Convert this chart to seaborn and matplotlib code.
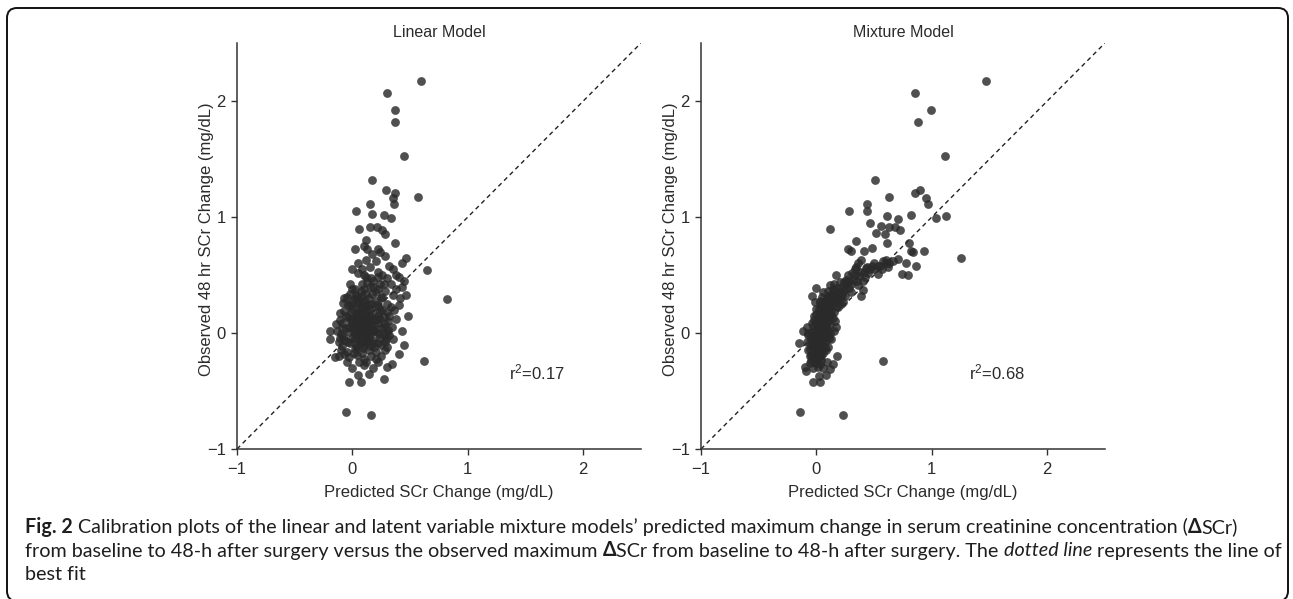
import numpy as np
import pandas as pd
import matplotlib
matplotlib.use("Agg")
import matplotlib.pyplot as plt
import seaborn as sns
from matplotlib.patches import FancyBboxPatch
from matplotlib.transforms import IdentityTransform

# ---------------- data (predicted, observed) ----------------
linear_tail = [
    (0.59, 2.17), (0.30, 2.07), (0.37, 1.92), (0.37, 1.82), (0.45, 1.53), (0.17, 1.32), (0.29, 1.23), (0.37, 1.21), (0.57, 1.17), (0.35, 1.16),
    (0.15, 1.11), (0.36, 1.11), (0.03, 1.05), (0.27, 1.02), (0.33, 0.99), (0.17, 1.03), (0.06, 0.90), (0.15, 0.91), (0.21, 0.91), (0.26, 0.89),
    (0.28, 0.85), (0.12, 0.80), (0.37, 0.78), (0.02, 0.72), (0.13, 0.72), (0.22, 0.72), (0.24, 0.70), (0.46, 0.65), (0.65, 0.54), (0.43, 0.60),
    (0.12, 0.63), (0.82, 0.29), (0.62, -0.24), (-0.06, -0.68), (0.16, -0.71), (-0.03, -0.42), (0.07, -0.42), (0.27, -0.40), (0.05, -0.36), (0.14, -0.35),
    (0.30, -0.29), (0.34, -0.27), (-0.19, 0.02), (-0.19, -0.05), (-0.15, -0.21), (-0.11, 0.17), (-0.08, 0.26), (0.46, 0.33), (0.43, 0.40), (0.45, 0.45),
]
linear_mid = [
    (0.10, 0.75), (0.17, 0.68), (0.20, 0.62), (0.28, 0.66), (0.32, 0.58), (0.35, 0.55), (0.38, 0.50), (0.05, 0.60), (0.00, 0.55), (0.08, 0.55),
    (0.15, 0.57), (0.22, 0.53), (0.26, 0.50), (0.30, 0.47), (0.40, 0.48), (0.33, 0.42), (0.38, 0.38), (0.12, 0.48), (0.18, 0.45), (0.05, 0.52),
    (-0.02, 0.42), (0.00, 0.38), (0.24, 0.42), (0.28, 0.36), (0.35, 0.33), (0.41, 0.30), (0.40, 0.24), (0.36, 0.20), (0.32, 0.15), (0.38, 0.12),
    (0.34, 0.05), (0.30, 0.00), (0.35, -0.05), (0.30, -0.12), (0.25, -0.20), (0.28, -0.15), (0.22, -0.25), (0.18, -0.30), (0.10, -0.28), (0.00, -0.30),
    (-0.05, -0.25), (-0.10, -0.15), (-0.12, -0.08), (-0.14, 0.08), (-0.07, 0.30), (-0.12, -0.20), (0.43, 0.02), (0.48, 0.15), (0.45, -0.10), (0.40, -0.18),
]
linear_core = [
    (-0.05, 0.31), (0.02, 0.29), (0.08, 0.32), (0.14, 0.30), (0.20, 0.28), (0.26, 0.31),
    (-0.02, 0.24), (0.05, 0.26), (0.11, 0.23), (0.17, 0.25), (0.23, 0.22), (0.30, 0.25),
    (-0.07, 0.19), (0.00, 0.21), (0.06, 0.18), (0.12, 0.20), (0.18, 0.17), (0.24, 0.19), (0.30, 0.18),
    (-0.04, 0.14), (0.03, 0.16), (0.09, 0.13), (0.15, 0.15), (0.21, 0.12), (0.27, 0.14),
    (-0.09, 0.09), (-0.02, 0.11), (0.04, 0.08), (0.10, 0.10), (0.16, 0.07), (0.22, 0.09), (0.28, 0.08),
    (-0.06, 0.04), (0.01, 0.06), (0.07, 0.03), (0.13, 0.05), (0.19, 0.02), (0.25, 0.04), (0.31, 0.03),
    (-0.10, -0.01), (-0.03, 0.01), (0.03, -0.02), (0.09, 0.00), (0.15, -0.01), (0.21, 0.01), (0.27, -0.02),
    (-0.07, -0.06), (0.00, -0.04), (0.06, -0.07), (0.12, -0.05), (0.18, -0.06), (0.24, -0.04),
    (-0.09, -0.11), (-0.02, -0.09), (0.04, -0.12), (0.10, -0.10), (0.16, -0.11), (0.22, -0.09), (0.28, -0.08),
    (-0.05, -0.16), (0.02, -0.14), (0.08, -0.17), (0.14, -0.15), (0.20, -0.16),
    (-0.03, -0.21), (0.04, -0.19), (0.10, -0.22), (0.16, -0.20),
    (0.05, 0.02), (0.10, 0.07), (0.00, 0.08), (0.12, -0.02), (0.07, -0.08), (0.03, 0.12), (0.15, 0.10), (0.08, 0.18), (0.18, 0.03), (0.02, -0.04),
    (0.10, 0.00), (0.06, 0.05), (0.13, 0.14), (0.04, 0.22), (0.11, 0.28), (0.20, 0.35), (0.15, 0.40), (0.10, 0.38), (0.25, 0.30), (0.22, 0.15),
    (0.07, 0.36), (0.17, 0.34), (0.03, 0.33), (0.13, 0.44), (0.08, 0.42), (-0.03, 0.05), (0.19, -0.12), (0.01, -0.17), (0.07, 0.11), (0.13, -0.08),
    (-0.13, 0.02), (-0.11, 0.11), (-0.08, -0.03), (-0.06, 0.15), (-0.04, -0.08), (-0.01, 0.18), (0.01, 0.02), (0.03, -0.10), (0.05, 0.14), (0.06, -0.02),
    (0.08, 0.08), (0.09, -0.13), (0.11, 0.16), (0.12, 0.03), (0.14, -0.04), (0.15, 0.21), (0.17, 0.12), (0.18, -0.09), (0.19, 0.07), (0.21, 0.24),
    (0.23, -0.01), (0.24, 0.12), (0.26, 0.20), (0.27, 0.05), (0.29, -0.05), (0.31, 0.10), (0.33, 0.22), (0.32, -0.02), (0.00, 0.27), (0.06, 0.29),
    (0.12, 0.34), (0.18, 0.40), (0.22, 0.38), (0.27, 0.42), (0.02, 0.38), (-0.04, 0.24), (-0.09, 0.04), (-0.11, -0.04), (-0.07, -0.18), (0.06, -0.25),
    (0.12, -0.25), (0.20, -0.22), (0.25, -0.10), (0.14, 0.24), (0.09, 0.26), (0.04, 0.31), (-0.02, 0.34), (0.16, 0.47), (0.22, 0.48), (0.10, 0.50),
    (0.00, 0.12), (0.05, 0.06), (0.10, 0.04), (0.08, -0.04), (0.03, 0.04), (0.13, 0.09), (0.11, -0.07), (0.04, 0.15), (0.16, 0.02), (0.07, 0.22),
]

mixture_tail = [
    (1.47, 2.17), (0.85, 2.07), (0.99, 1.92), (0.88, 1.82), (1.11, 1.53), (0.51, 1.32), (0.63, 1.17), (0.85, 1.21), (0.90, 1.23), (0.95, 1.16),
    (0.97, 1.11), (0.44, 1.11), (0.44, 1.05), (0.28, 1.05), (0.61, 1.01), (0.82, 1.02), (1.04, 0.99), (1.12, 1.01), (0.71, 0.98), (0.12, 0.90),
    (0.56, 0.92), (0.63, 0.91), (0.68, 0.91), (0.72, 0.89), (0.46, 0.95), (0.52, 0.86), (0.59, 0.85), (0.34, 0.79), (0.61, 0.78), (0.27, 0.72),
    (0.30, 0.71), (0.41, 0.71), (0.48, 0.73), (0.80, 0.78), (0.82, 0.71), (0.84, 0.70), (0.93, 0.71), (1.25, 0.65), (0.71, 0.64), (0.78, 0.60),
    (0.86, 0.58), (0.60, 0.63), (0.63, 0.60), (0.34, 0.57), (0.44, 0.57), (0.53, 0.51), (0.74, 0.51), (0.79, 0.50), (0.17, 0.50), (0.26, 0.46),
    (0.00, 0.39), (-0.04, 0.32), (0.39, 0.32), (0.40, 0.37), (0.30, 0.35), (0.32, 0.46), (0.40, 0.45), (0.15, 0.42), (0.20, 0.44), (0.39, 0.63),
    (0.58, -0.24), (-0.14, -0.68), (0.23, -0.71), (-0.03, -0.42), (0.03, -0.42), (0.08, -0.36), (-0.15, -0.09), (-0.12, 0.02), (-0.10, -0.29), (0.18, -0.20),
]
mixture_band = [
    (0.20, 0.35), (0.25, 0.38), (0.30, 0.42), (0.35, 0.45), (0.42, 0.48), (0.45, 0.52), (0.50, 0.55), (0.55, 0.58), (0.60, 0.60), (0.22, 0.40),
    (0.28, 0.45), (0.33, 0.50), (0.38, 0.53), (0.43, 0.56), (0.48, 0.58), (0.57, 0.55), (0.62, 0.57), (0.66, 0.62), (0.36, 0.41), (0.25, 0.32),
    (0.18, 0.30), (0.23, 0.27), (0.15, 0.37), (0.12, 0.33), (0.28, 0.39),
]
mixture_core = [
    (0.05, 0.31), (0.10, 0.29), (0.15, 0.32), (0.19, 0.28),
    (0.03, 0.26), (0.08, 0.24), (0.13, 0.27), (0.17, 0.23),
    (0.02, 0.21), (0.06, 0.19), (0.11, 0.22), (0.15, 0.18),
    (0.00, 0.16), (0.05, 0.14), (0.09, 0.17), (0.14, 0.13),
    (-0.02, 0.11), (0.03, 0.09), (0.07, 0.12), (0.12, 0.08),
    (-0.03, 0.06), (0.02, 0.04), (0.06, 0.07), (0.10, 0.03),
    (-0.04, 0.01), (0.01, -0.01), (0.05, 0.02), (0.09, -0.02),
    (-0.05, -0.04), (0.00, -0.06), (0.04, -0.03), (0.08, -0.07),
    (-0.06, -0.09), (-0.01, -0.11), (0.03, -0.08), (0.07, -0.12),
    (-0.06, -0.14), (-0.02, -0.16), (0.02, -0.13), (0.06, -0.17),
    (-0.05, -0.19), (-0.01, -0.21), (0.03, -0.18),
    (-0.05, -0.24), (0.00, -0.26), (0.04, -0.23),
    (-0.03, -0.30), (0.01, -0.29),
    (0.07, 0.28), (0.12, 0.25), (0.04, 0.23), (0.09, 0.20), (0.13, 0.20), (0.03, 0.18), (0.07, 0.15), (0.11, 0.14), (0.01, 0.13), (0.05, 0.10),
    (0.09, 0.09), (0.00, 0.08), (0.04, 0.05), (0.08, 0.05), (-0.01, 0.02), (0.03, 0.00), (0.07, 0.01), (-0.02, -0.03), (0.02, -0.05), (0.06, -0.04),
    (-0.03, -0.08), (0.01, -0.09), (0.05, -0.10), (-0.04, -0.12), (0.00, -0.14), (0.04, -0.15), (-0.03, -0.18), (0.01, -0.19), (-0.02, -0.23), (0.02, -0.21),
    (0.10, -0.12), (0.12, 0.00), (-0.07, -0.02), (-0.08, 0.05), (0.16, 0.10), (0.19, 0.22), (0.21, 0.25), (-0.06, -0.20), (0.09, -0.25), (0.06, -0.30),
    (0.10, 0.36), (0.06, 0.35), (0.14, 0.38), (0.17, 0.34), (0.12, 0.41), (-0.07, -0.15), (0.13, -0.05), (0.15, 0.02), (-0.01, 0.27), (0.22, 0.33),
    (-0.09, -0.33), (0.12, -0.31), (0.14, -0.27), (0.02, -0.37),
    (-0.08, -0.08), (-0.07, 0.00), (-0.06, -0.26), (-0.04, 0.09), (-0.02, 0.15), (-0.01, -0.07), (0.00, 0.21), (0.01, 0.05), (0.02, -0.17), (0.03, 0.28),
    (0.04, -0.20), (0.05, 0.17), (0.06, -0.07), (0.07, 0.04), (0.08, 0.19), (0.08, -0.15), (0.10, 0.11), (0.11, 0.31), (0.11, -0.04), (0.13, 0.16),
    (0.14, 0.33), (0.16, 0.27), (0.17, 0.05), (0.18, 0.39), (0.20, 0.31), (0.23, 0.36), (0.26, 0.42), (0.24, 0.44), (0.27, 0.50), (0.31, 0.52),
    (0.33, 0.55), (0.37, 0.49), (0.41, 0.53), (0.46, 0.55), (0.50, 0.60), (0.53, 0.58), (0.58, 0.62), (0.36, 0.60), (0.04, 0.12), (0.02, 0.10),
    (0.06, 0.00), (0.00, -0.02), (-0.03, -0.10), (0.05, -0.13), (-0.01, -0.25), (0.03, -0.27), (0.10, 0.22), (0.07, 0.25), (0.09, 0.30), (0.13, 0.30),
]

panel_titles = ["Linear Model", "Mixture Model"]
r2_labels = ["r$^{2}$=0.17", "r$^{2}$=0.68"]
r2_pos = [(1.36, -0.34), (1.32, -0.34)]
axis_limits = [-1, 2.5]
tick_values = [-1, 0, 1, 2]
tick_labels = ["\u22121", "0", "1", "2"]
x_label = "Predicted SCr Change (mg/dL)"
y_label = "Observed 48 hr SCr Change (mg/dL)"

caption_lines = [
    [("Fig. 2", "bold", "normal"),
     (" Calibration plots of the linear and latent variable mixture models\u2019 predicted maximum change in serum creatinine concentration (", "normal", "normal"),
     ("\u0394", "bold", "normal"), ("SCr)", "normal", "normal")],
    [("from baseline to 48-h after surgery versus the observed maximum ", "normal", "normal"),
     ("\u0394", "bold", "normal"),
     ("SCr from baseline to 48-h after surgery. The ", "normal", "normal"),
     ("dotted line", "normal", "italic"),
     (" represents the line of", "normal", "normal")],
    [("best fit", "normal", "normal")],
]
caption_targets = [1241, 1251]

# ---------------- figure ----------------
sns.set_style("ticks")
plt.rcParams["font.family"] = ["Liberation Sans", "DejaVu Sans"]
plt.rcParams["mathtext.fontset"] = "custom"
plt.rcParams["mathtext.rm"] = "Liberation Sans"
plt.rcParams["mathtext.it"] = "Liberation Sans"
plt.rcParams["mathtext.default"] = "regular"

W, H = 1293, 599
fig = plt.figure(figsize=(W / 100, H / 100), dpi=100)
fig.patch.set_facecolor("white")

axes_px = [(237, 43, 641, 449), (701, 43, 1105, 449)]
datasets = [linear_tail + linear_mid + linear_core,
            mixture_tail + mixture_band + mixture_core]

txt_col = "#2b2b2b"
for i, (x0, y0, x1, y1) in enumerate(axes_px):
    ax = fig.add_axes([x0 / W, 1 - y1 / H, (x1 - x0) / W, (y1 - y0) / H])
    df = pd.DataFrame(datasets[i], columns=["pred", "obs"])
    ax.plot(axis_limits, axis_limits, color="#222222", lw=1.0, ls=(0, (3.2, 2.6)), zorder=1)
    sns.scatterplot(data=df, x="pred", y="obs", ax=ax, s=40, color="#2a2a2a",
                    alpha=0.82, linewidth=0, zorder=2, legend=False)
    ax.set_xlim(axis_limits)
    ax.set_ylim(axis_limits)
    ax.set_xticks(tick_values)
    ax.set_xticklabels(tick_labels)
    ax.set_yticks(tick_values)
    ax.set_yticklabels(tick_labels)
    sns.despine(ax=ax)
    for side in ["left", "bottom"]:
        ax.spines[side].set_color("#333333")
        ax.spines[side].set_linewidth(1.1)
    ax.tick_params(axis="x", pad=5)
    ax.tick_params(axis="y", pad=4)
    ax.tick_params(axis="both", length=4, width=1.0, color="#333333",
                   labelsize=12, labelcolor=txt_col)
    ax.set_xlabel(x_label, fontsize=12, color=txt_col, labelpad=6)
    ax.set_ylabel(y_label, fontsize=12, color=txt_col)
    ax.yaxis.set_label_coords(-0.058, 0.518)
    ax.set_title(panel_titles[i], fontsize=11.5, color=txt_col, pad=4)
    ax.text(r2_pos[i][0], r2_pos[i][1], r2_labels[i], fontsize=12,
            color=txt_col, ha="left", va="center")

# rounded frame
frame = FancyBboxPatch((7, -2), 1281, 593,
                       boxstyle="round,pad=0,rounding_size=10",
                       transform=IdentityTransform(), facecolor="none",
                       edgecolor="#111111", linewidth=1.4, zorder=10)
fig.patches.append(frame)
frame.set_figure(fig)

# caption
renderer = fig.canvas.get_renderer()
cap_family = ["Lato", "DejaVu Sans"]

def line_width(pieces, size):
    total = 0
    for txt, wt, st in pieces:
        t = fig.text(0, 0, txt, fontsize=size, family=cap_family, fontweight=wt, fontstyle=st)
        total += t.get_window_extent(renderer).width
        t.remove()
    return total

base = 12
cap_size = min(base * tgt / line_width(p, base) for p, tgt in zip(caption_lines, caption_targets))

baselines = [533, 556.5, 580]
for pieces, yb in zip(caption_lines, baselines):
    x = 25
    for txt, wt, st in pieces:
        t = fig.text(x / W, 1 - yb / H, txt, fontsize=cap_size, family=cap_family,
                     fontweight=wt, fontstyle=st, color="#1e1e1e", va="baseline", ha="left")
        x += t.get_window_extent(renderer).width

fig.savefig("out.png", dpi=100, facecolor="white")
